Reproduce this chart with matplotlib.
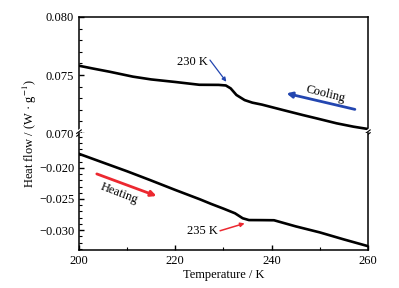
import numpy as np
import matplotlib
matplotlib.use('Agg')
import matplotlib.pyplot as plt
from matplotlib.ticker import MultipleLocator

plt.rcParams['font.family'] = ['Liberation Serif', 'DejaVu Serif']
plt.rcParams['font.size'] = 9
plt.rcParams['mathtext.fontset'] = 'stix'

# cooling curve (upper panel)
t_cool = [200, 203, 206.4, 211.2, 215, 220, 225, 229, 230.5, 231.5, 232.7,
          234.4, 236, 238, 242.4, 246.5, 249.3, 253.5, 257, 260]
q_cool = [0.0758, 0.07555, 0.07528, 0.07486, 0.07462, 0.07440, 0.07416, 0.07415,
          0.07410, 0.07385, 0.07328, 0.07284, 0.07262, 0.07245, 0.07198, 0.07155,
          0.07127, 0.07084, 0.07055, 0.07035]

# heating curve (lower panel)
t_heat = [200, 204.4, 210, 214.7, 220, 225.1, 227.5, 230, 232.4, 234, 235.3,
          238, 240.5, 245, 250, 255, 260]
q_heat = [-0.01774, -0.01898, -0.02055, -0.02194, -0.02355, -0.02505, -0.02581,
          -0.02655, -0.0273, -0.0281, -0.02839, -0.0284, -0.02842, -0.0294,
          -0.03037, -0.0315, -0.03258]

blue = '#2346b0'
red = '#ec2830'

fig = plt.figure(figsize=(3.99, 2.88), dpi=100)
ax1 = fig.add_axes([0.198, 0.538, 0.724, 0.403])
ax2 = fig.add_axes([0.198, 0.132, 0.724, 0.406])

ax1.plot(t_cool, q_cool, color='k', lw=1.9)
ax2.plot(t_heat, q_heat, color='k', lw=1.9)

ax1.set_xlim(200, 260)
ax2.set_xlim(200, 260)
ax1.set_ylim(0.070, 0.080)
ax2.set_ylim(-0.0332, -0.0144)

ax1.spines['bottom'].set_visible(False)
ax2.spines['top'].set_visible(False)
for ax in (ax1, ax2):
    for s in ax.spines.values():
        s.set_linewidth(1.1)
    ax.tick_params(which='both', direction='in', top=False, right=False)
    ax.tick_params(which='major', length=3.5, width=1)
    ax.tick_params(which='minor', length=2, width=0.8)
    ax.yaxis.set_minor_locator(MultipleLocator(0.001))

ax1.set_yticks([0.070, 0.075, 0.080])
ax1.set_yticklabels(['0.070', '0.075', '0.080'])
ax1.tick_params(axis='x', which='both', bottom=False, labelbottom=False)
ax2.set_yticks([-0.030, -0.025, -0.020])
ax2.set_yticklabels(['\u22120.030', '\u22120.025', '\u22120.020'])
ax2.set_xticks([200, 220, 240, 260])
ax2.xaxis.set_minor_locator(MultipleLocator(10))

# break marks on the spines
for xa in (0, 1):
    ax1.plot([xa - 0.008, xa + 0.008], [-0.005, 0.025], transform=ax1.transAxes,
             color='w', lw=3, clip_on=False, zorder=5)
    for dy in (-0.012, 0.012):
        ax1.plot([xa - 0.008, xa + 0.008], [dy - 0.015, dy + 0.015],
                 transform=ax1.transAxes, color='k', lw=0.8, clip_on=False, zorder=6)

# annotations
ax1.annotate('', xy=(230.6, 0.07442), xytext=(227.2, 0.07629),
             arrowprops=dict(arrowstyle='-|>', color=blue, lw=0.9,
                             mutation_scale=6, shrinkA=0, shrinkB=0))
ax1.text(226.8, 0.07612, '230 K', ha='right', va='center', fontsize=9)

ax1.annotate('', xy=(243.1, 0.07342), xytext=(257.3, 0.07204),
             arrowprops=dict(arrowstyle='-|>', color=blue, lw=2,
                             mutation_scale=8, shrinkA=0, shrinkB=0))
ax1.text(251.2, 0.0734, 'Cooling', ha='center', va='center', rotation=-14, fontsize=9)

ax2.annotate('', xy=(216.1, -0.02452), xytext=(203.7, -0.02097),
             arrowprops=dict(arrowstyle='-|>', color=red, lw=2,
                             mutation_scale=8, shrinkA=0, shrinkB=0))
ax2.text(208.3, -0.02408, 'Heating', ha='center', va='center', rotation=-21, fontsize=9)

ax2.annotate('', xy=(234.4, -0.02892), xytext=(229.3, -0.03011),
             arrowprops=dict(arrowstyle='-|>', color=red, lw=1.1,
                             mutation_scale=6, shrinkA=0, shrinkB=0))
ax2.text(228.8, -0.0301, '235 K', ha='right', va='center', fontsize=9)

fig.text(0.56, 0.045, 'Temperature / K', ha='center', va='center', fontsize=9)
fig.text(0.075, 0.535, 'Heat flow / (W \u00b7 g$^{-1}$)', ha='center', va='center',
         rotation=90, fontsize=9)

fig.savefig('out.png', dpi=100)
